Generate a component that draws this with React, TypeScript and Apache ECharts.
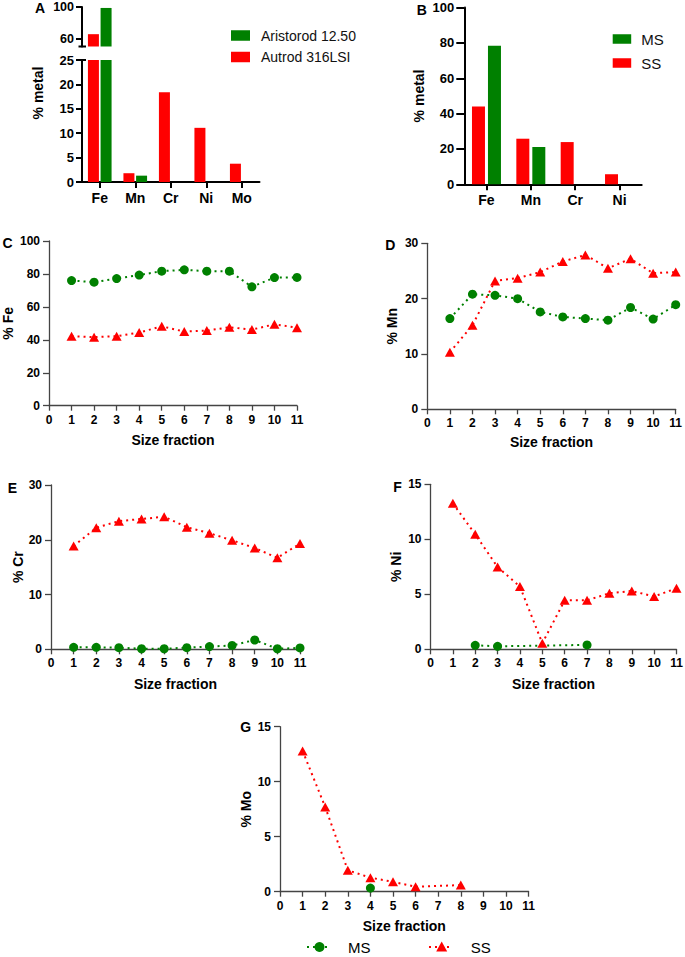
import React, { useEffect, useRef } from "react";
import * as echarts from "echarts";

// ---------------- data ----------------
const elementsA = ["Fe", "Mn", "Cr", "Ni", "Mo"];
const aristorod1250 = [98.8, 1.3, 0, 0, 0];
const autrod316LSI = [65.6, 1.8, 18.4, 11.1, 3.75];

const elementsB = ["Fe", "Mn", "Cr", "Ni"];
const msMetal = [78.4, 21.1, 0, 0];
const ssMetal = [44.1, 25.8, 23.9, 5.7];

const sizeFractions = [1, 2, 3, 4, 5, 6, 7, 8, 9, 10, 11];

const msFe = [76.0, 75.0, 77.2, 79.3, 81.7, 82.5, 81.7, 81.7, 72.2, 77.8, 77.9];
const ssFe = [42.2, 41.6, 42.2, 44.4, 48.2, 45.0, 45.6, 47.6, 46.2, 49.4, 47.4];

const msMn = [16.4, 20.8, 20.6, 20.0, 17.6, 16.7, 16.4, 16.1, 18.4, 16.3, 18.9];
const ssMn = [10.3, 15.2, 23.2, 23.7, 24.8, 26.7, 27.9, 25.5, 27.2, 24.6, 24.8];

const msCr = [0.36, 0.36, 0.3, 0.1, 0.1, 0.3, 0.5, 0.7, 1.7, 0.1, 0.25];
const ssCr = [18.85, 22.2, 23.4, 23.8, 24.2, 22.3, 21.2, 19.9, 18.5, 16.7, 19.3];

const msNi = [null, 0.36, 0.27, null, null, null, 0.4, null, null, null, null];
const ssNi = [13.27, 10.45, 7.48, 5.7, 0.55, 4.45, 4.45, 5.1, 5.3, 4.8, 5.55];

const msMo = [null, null, null, 0.33, null, null, null, null, null, null, null];
const ssMo = [12.8, 7.7, 1.95, 1.27, 0.9, 0.45, null, 0.6, null, null, null];

const upperTicksA = [60, 100];

// ---------------- styles / layout ----------------
const FONT = "'Liberation Sans', Arial, Helvetica, sans-serif";
const GREEN = "#008000";
const RED = "#ff0000";

const linePanels = [
  { ms: msFe, ss: ssFe, yName: "% Fe", yMax: 100, yInterval: 20, letter: "C",
    grid: { left: 49, top: 241, width: 248, height: 164.7 }, nameGap: 34, xNameGap: 27, lx: 7.5, ly: 243 },
  { ms: msMn, ss: ssMn, yName: "% Mn", yMax: 30, yInterval: 10, letter: "D",
    grid: { left: 427.3, top: 243.3, width: 248.4, height: 166 }, nameGap: 28, xNameGap: 26, lx: 390.3, ly: 245.3 },
  { ms: msCr, ss: ssCr, yName: "% Cr", yMax: 30, yInterval: 10, letter: "E",
    grid: { left: 51, top: 485, width: 249, height: 164.3 }, nameGap: 26, xNameGap: 28, lx: 12.5, ly: 488 },
  { ms: msNi, ss: ssNi, yName: "% Ni", yMax: 15, yInterval: 5, letter: "F",
    grid: { left: 430.5, top: 484.3, width: 246, height: 165 }, nameGap: 27.5, xNameGap: 28, lx: 397.5, ly: 487 },
  { ms: msMo, ss: ssMo, yName: "% Mo", yMax: 15, yInterval: 5, letter: "G",
    grid: { left: 280, top: 726.7, width: 248.6, height: 165 }, nameGap: 27, xNameGap: 27, lx: 245.7, ly: 727 },
];

const pairs = (vals: (number | null)[]) =>
  sizeFractions
    .map((x, i) => [x, vals[i]])
    .filter((p) => p[1] !== null && p[1] !== undefined);

const boldLabel = (size: number) => ({
  fontSize: size,
  fontWeight: "bold" as const,
  color: "#000",
  fontFamily: FONT,
});

export default function App() {
  const ref = useRef<HTMLDivElement>(null);

  useEffect(() => {
    if (!ref.current) return;
    const chart = echarts.init(ref.current, undefined, { renderer: "svg" });

    const barAxisLine = { show: true, onZero: false, lineStyle: { color: "#000", width: 2 } };
    const barAxisTick = { show: true, length: 6, lineStyle: { color: "#000", width: 2 } };
    const lineAxisLine = { show: true, onZero: false, lineStyle: { color: "#444", width: 1.3 } };
    const lineAxisTick = { show: true, length: 5, lineStyle: { color: "#444", width: 1.3 } };

    const grids: any[] = [
      { left: 82, top: 7, width: 177.5, height: 39.5 },
      { left: 82, top: 60, width: 177.5, height: 122 },
      { left: 464.3, top: 7.6, width: 177.4, height: 176.7 },
      ...linePanels.map((p) => ({ ...p.grid })),
    ].map((g) => ({ ...g, containLabel: false, outerBoundsMode: "none" }));

    const xAxes: any[] = [
      { gridIndex: 0, type: "category", data: elementsA, show: false },
      {
        gridIndex: 1, type: "category", data: elementsA,
        axisLine: barAxisLine,
        axisTick: { ...barAxisTick, alignWithLabel: true },
        axisLabel: { ...boldLabel(14), margin: 9, interval: 0 },
      },
      {
        gridIndex: 2, type: "category", data: elementsB,
        axisLine: barAxisLine,
        axisTick: { ...barAxisTick, alignWithLabel: true },
        axisLabel: { ...boldLabel(14), margin: 9, interval: 0 },
      },
      ...linePanels.map((p, i) => ({
        gridIndex: 3 + i, type: "value", min: 0, max: 11, interval: 1,
        name: "Size fraction", nameLocation: "middle", nameGap: p.xNameGap,
        nameTextStyle: boldLabel(14),
        axisLine: lineAxisLine, axisTick: lineAxisTick,
        axisLabel: { ...boldLabel(12), margin: 8 },
        splitLine: { show: false },
      })),
    ];

    const yAxes: any[] = [
      {
        gridIndex: 0, type: "value", min: 50, max: 100,
        axisLine: barAxisLine,
        axisTick: { ...barAxisTick, customValues: upperTicksA },
        axisLabel: { ...boldLabel(12.5), margin: 8, customValues: upperTicksA },
        splitLine: { show: false },
      },
      {
        gridIndex: 1, type: "value", min: 0, max: 25, interval: 5,
        axisLine: barAxisLine, axisTick: barAxisTick,
        axisLabel: { ...boldLabel(13), margin: 8 },
        splitLine: { show: false },
      },
      {
        gridIndex: 2, type: "value", min: 0, max: 100, interval: 20,
        name: "% metal", nameLocation: "middle", nameGap: 38,
        nameTextStyle: boldLabel(14),
        axisLine: barAxisLine, axisTick: { ...barAxisTick, length: 8 },
        axisLabel: { ...boldLabel(13), margin: 10 },
        splitLine: { show: false },
      },
      ...linePanels.map((p, i) => ({
        gridIndex: 3 + i, type: "value", min: 0, max: p.yMax, interval: p.yInterval,
        name: p.yName, nameLocation: "middle", nameGap: p.nameGap,
        nameTextStyle: boldLabel(14),
        axisLine: lineAxisLine, axisTick: { ...lineAxisTick, length: 6 },
        axisLabel: { ...boldLabel(12), margin: 9 },
        splitLine: { show: false },
      })),
    ];

    const series: any[] = [];
    [0, 1].forEach((gi) => {
      series.push({
        type: "bar", name: "Autrod 316LSI", xAxisIndex: gi, yAxisIndex: gi,
        data: autrod316LSI, barWidth: 11, barGap: "15%", clip: true,
        itemStyle: { color: RED },
      });
      series.push({
        type: "bar", name: "Aristorod 12.50", xAxisIndex: gi, yAxisIndex: gi,
        data: aristorod1250, barWidth: 11, barGap: "15%", clip: true,
        itemStyle: { color: GREEN },
      });
    });
    series.push({
      type: "bar", name: "SS", xAxisIndex: 2, yAxisIndex: 2,
      data: ssMetal, barWidth: 13, barGap: "23%", clip: true, itemStyle: { color: RED },
    });
    series.push({
      type: "bar", name: "MS", xAxisIndex: 2, yAxisIndex: 2,
      data: msMetal, barWidth: 13, barGap: "23%", clip: true, itemStyle: { color: GREEN },
    });
    linePanels.forEach((p, i) => {
      series.push({
        type: "line", name: "MS", xAxisIndex: 3 + i, yAxisIndex: 3 + i,
        data: pairs(p.ms), symbol: "circle", symbolSize: 9, connectNulls: true,
        lineStyle: { color: GREEN, width: 2, type: [2, 4] },
        itemStyle: { color: GREEN },
      });
      series.push({
        type: "line", name: "SS", xAxisIndex: 3 + i, yAxisIndex: 3 + i,
        data: pairs(p.ss), symbol: "triangle", symbolSize: [10, 9], connectNulls: true,
        lineStyle: { color: RED, width: 2, type: [2, 4] },
        itemStyle: { color: RED },
      });
    });

    const letterStyle = (t: string) => ({
      text: t, font: `bold 14px ${FONT}`, fill: "#000",
      align: "center", verticalAlign: "middle",
      textAlign: "center", textVerticalAlign: "middle",
    });

    const LY = 947;
    const graphic: any[] = [
      { type: "text", x: 40, y: 8, style: letterStyle("A") },
      { type: "text", x: 421.7, y: 9.5, style: letterStyle("B") },
      ...linePanels.map((p) => ({ type: "text", x: p.lx, y: p.ly, style: letterStyle(p.letter) })),
      {
        type: "text", x: 37.5, y: 93, rotation: Math.PI / 2,
        style: letterStyle("% metal"),
      },
      // axis-break marks in panel A
      { type: "line", shape: { x1: 78.5, y1: 46.5, x2: 86, y2: 46.5 }, style: { stroke: "#000", lineWidth: 2 } },
      { type: "line", shape: { x1: 78.5, y1: 60, x2: 86, y2: 60 }, style: { stroke: "#000", lineWidth: 2 } },
      // bottom legend
      { type: "line", shape: { x1: 307, y1: LY, x2: 331, y2: LY }, style: { stroke: GREEN, lineWidth: 2, lineDash: [2, 4] } },
      { type: "circle", shape: { cx: 319.5, cy: LY, r: 5 }, style: { fill: GREEN } },
      {
        type: "text", x: 348, y: LY,
        style: { text: "MS", font: `15px ${FONT}`, fill: "#000", verticalAlign: "middle", textVerticalAlign: "middle" },
      },
      { type: "line", shape: { x1: 429, y1: LY, x2: 453, y2: LY }, style: { stroke: RED, lineWidth: 2, lineDash: [2, 4] } },
      {
        type: "polygon",
        shape: { points: [[441.7, LY - 5.5], [447.2, LY + 4.5], [436.2, LY + 4.5]] },
        style: { fill: RED },
      },
      {
        type: "text", x: 470.7, y: LY,
        style: { text: "SS", font: `15px ${FONT}`, fill: "#000", verticalAlign: "middle", textVerticalAlign: "middle" },
      },
    ];

    chart.setOption({
      animation: false,
      backgroundColor: "#fff",
      textStyle: { fontFamily: FONT },
      grid: grids,
      xAxis: xAxes,
      yAxis: yAxes,
      legend: [
        {
          left: 226, top: 23.5, orient: "vertical", icon: "rect",
          itemWidth: 19, itemHeight: 10.5, itemGap: 7.5,
          data: ["Aristorod 12.50", "Autrod 316LSI"],
          textStyle: { fontSize: 14, color: "#111", fontFamily: FONT, padding: [0, 0, 0, 6] },
          selectedMode: false,
        },
        {
          left: 607.7, top: 26.5, orient: "vertical", icon: "rect",
          itemWidth: 18.5, itemHeight: 9.5, itemGap: 9,
          data: ["MS", "SS"],
          textStyle: { fontSize: 15, color: "#111", fontFamily: FONT, padding: [0, 0, 0, 5] },
          selectedMode: false,
        },
      ],
      graphic,
      series,
    });

    return () => chart.dispose();
  }, []);

  return (
    <div
      ref={ref}
      style={{ position: "absolute", left: 0, top: 0, width: 685, height: 957, background: "#fff" }}
    />
  );
}
